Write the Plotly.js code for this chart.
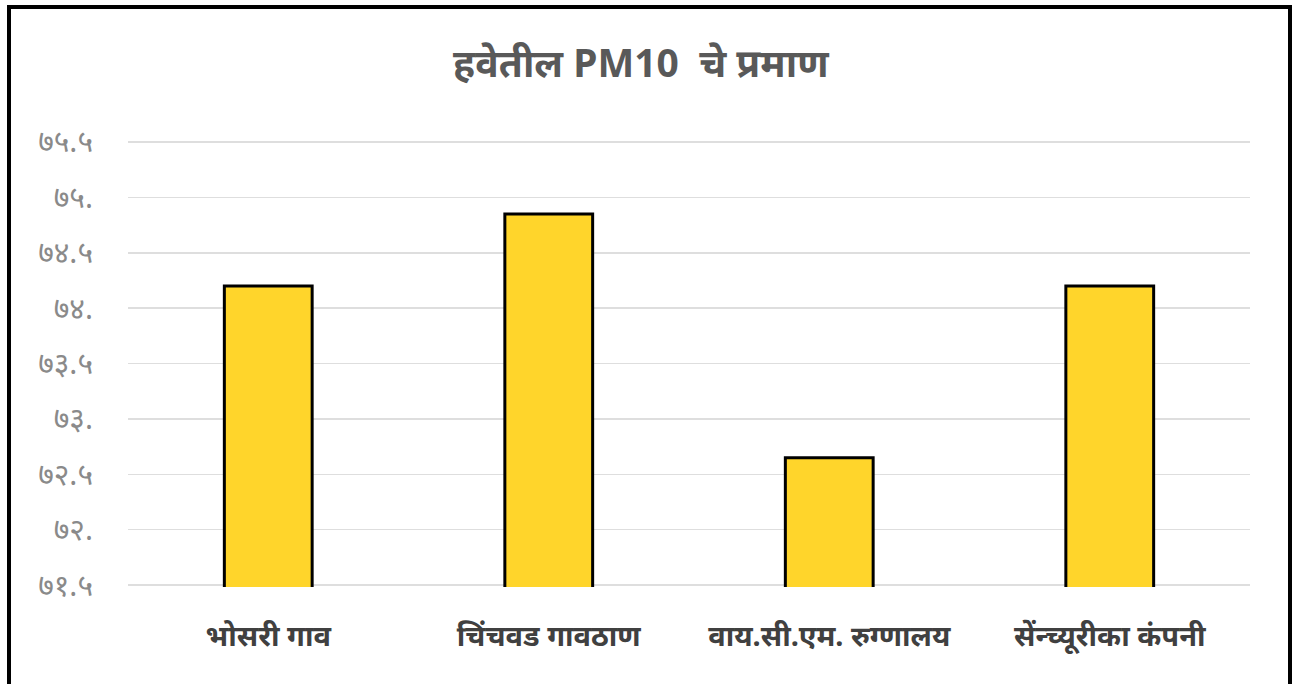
<!DOCTYPE html>
<html>
<head>
<meta charset="utf-8">
<script src="https://cdn.plot.ly/plotly-3.0.1.min.js"></script>
<style>
  html, body { margin: 0; padding: 0; background: #fff; }
  #chart { width: 1292px; height: 684px; }
  #frame { position: absolute; left: 7px; top: 5px; width: 1277px; height: 700px;
           border: 4px solid #000; pointer-events: none; }
</style>
</head>
<body>
<div id="chart"></div>
<div id="frame"></div>
<script>
const categories = ['भोसरी गाव', 'चिंचवड गावठाण', 'वाय.सी.एम. रुग्णालय', 'सेंन्च्यूरीका कंपनी'];
const pm10Values = [74.2, 74.85, 72.65, 74.2];
const yTickValues = [71.5, 72, 72.5, 73, 73.5, 74, 74.5, 75, 75.5];
const yTickLabels = ['७१.५', '७२.', '७२.५', '७३.', '७३.५', '७४.', '७४.५', '७५.', '७५.५'];
const chartTitle = 'हवेतील PM10&nbsp; चे प्रमाण';

const fontFamily = '"Noto Sans", "Liberation Sans", Arial, sans-serif';

const trace = {
  type: 'bar',
  x: categories,
  y: pm10Values,
  marker: { color: '#FFD52B', line: { color: '#000000', width: 3 } },
  hoverinfo: 'x+y'
};

const layout = {
  width: 1292,
  height: 684,
  margin: { l: 128, r: 42, t: 140, b: 97 },
  paper_bgcolor: '#ffffff',
  plot_bgcolor: '#ffffff',
  showlegend: false,
  bargap: 0.687,
  title: {
    text: chartTitle,
    x: 0.496, xref: 'container', xanchor: 'center',
    y: 0.908, yref: 'container', yanchor: 'middle',
    font: { family: fontFamily, size: 39, color: '#595959', weight: 'bold' }
  },
  xaxis: {
    showgrid: false, zeroline: false, showline: false,
    ticks: '', ticklabelstandoff: 29,
    tickfont: { family: fontFamily, size: 29, color: '#404040', weight: 'bold' }
  },
  yaxis: {
    range: [71.482, 75.518],
    tickvals: yTickValues,
    ticktext: yTickLabels,
    showgrid: true, gridcolor: '#dedede', gridwidth: 1.5,
    zeroline: false, showline: false,
    ticks: '', ticklabelstandoff: 34,
    tickfont: { family: fontFamily, size: 30, color: '#8a8a8a' }
  }
};

Plotly.newPlot('chart', [trace], layout, { displayModeBar: false, staticPlot: true });
</script>
</body>
</html>
